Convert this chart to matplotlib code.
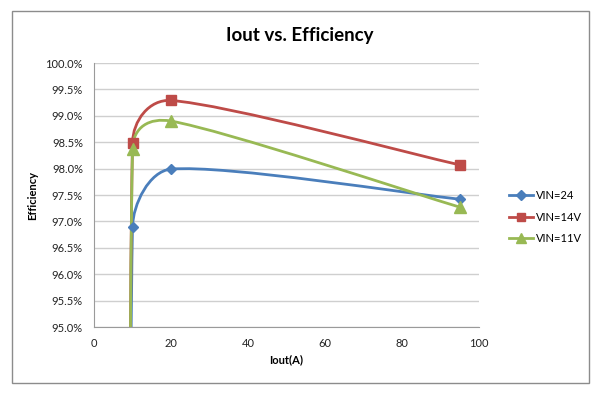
import numpy as np
import matplotlib
matplotlib.use("Agg")
import matplotlib.pyplot as plt
import matplotlib.ticker as mtick
from matplotlib.path import Path
from matplotlib.patches import PathPatch, Rectangle
from matplotlib.lines import Line2D

plt.rcParams["font.family"] = ["Lato", "DejaVu Sans"]

# first point of each series sits below the visible range (95%)
iout_24 = [9.95, 10, 20, 95]
eff_24 = [60.0, 96.90, 97.99, 97.42]
iout_14 = [9.5, 10, 20, 95]
eff_14 = [60.0, 98.49, 99.29, 98.07]
iout_11 = [9.5, 10, 20, 95]
eff_11 = [60.0, 98.37, 98.90, 97.27]

series = [
    ("VIN=24", iout_24, eff_24, "#4a7ebb", "D", 5.5),
    ("VIN=14V", iout_14, eff_14, "#be4b48", "s", 7),
    ("VIN=11V", iout_11, eff_11, "#98b954", "^", 8),
]

y_ticks = np.arange(95.0, 100.01, 0.5)
x_ticks = [0, 20, 40, 60, 80, 100]

# pixel size of one data unit, so the smoothing is done in screen space
SX = 385 / 100
SY = 264 / 5
ARM_MAX = 22  # px, longest bezier arm when the arm has to be capped


def smooth_path(xs, ys, f=1 / 6):
    # Excel like smoothed line: bezier, control arm capped on short segments
    pts = np.column_stack([np.array(xs) * SX, np.array(ys) * SY]).astype(float)
    n = len(pts)
    verts = [pts[0]]
    codes = [Path.MOVETO]
    for i in range(n - 1):
        p0 = pts[i - 1] if i > 0 else pts[i]
        p1, p2 = pts[i], pts[i + 1]
        p3 = pts[i + 2] if i + 2 < n else pts[i + 1]
        d12 = np.linalg.norm(p2 - p1)
        d02 = np.linalg.norm(p2 - p0)
        d13 = np.linalg.norm(p3 - p1)
        cap = min(d12 / 2, ARM_MAX)
        f1 = f if d02 * f < d12 / 2 else cap / d02
        f2 = f if d13 * f < d12 / 2 else cap / d13
        verts += [p1 + (p2 - p0) * f1, p2 - (p3 - p1) * f2, p2]
        codes += [Path.CURVE4] * 3
    verts = np.array(verts) / [SX, SY]
    return Path(verts, codes)


fig = plt.figure(figsize=(6.0, 3.94), dpi=100)
fig.patches.append(Rectangle((12 / 600, 1 - 383 / 394), 577 / 600, 372 / 394,
                             transform=fig.transFigure, fill=False,
                             edgecolor="#8c8c8c", linewidth=1.0))

ax = fig.add_axes([94 / 600, 1 - 327 / 394, 385 / 600, 264 / 394])

handles = []
for label, xs, ys, color, marker, ms in series:
    patch = PathPatch(smooth_path(xs, ys), fill=False, edgecolor=color,
                      linewidth=2.0, zorder=3)
    ax.add_patch(patch)
    ax.plot(xs, ys, linestyle="none", marker=marker, markersize=ms,
            color=color, zorder=4)
    handles.append(Line2D([], [], color=color, linewidth=2.0, marker=marker,
                          markersize=ms * 0.85, label=label))

ax.set_xlim(0, 100)
ax.set_ylim(95, 100)
ax.set_xticks(x_ticks)
ax.set_yticks(y_ticks)
ax.yaxis.set_major_formatter(mtick.FuncFormatter(lambda v, p: f"{v:.1f}%"))
ax.tick_params(length=0, labelsize=8, colors="#222222", pad=8)
ax.grid(True, axis="y", color="#cfcfcf", linewidth=1.0)
ax.set_axisbelow(True)
for side in ["top", "right"]:
    ax.spines[side].set_visible(False)
for side in ["left", "bottom"]:
    ax.spines[side].set_color("#9a9a9a")

ax.set_xlabel("Iout(A)", fontsize=8, fontweight="bold", labelpad=4)
ax.set_ylabel("Efficiency", fontsize=8, fontweight="bold", labelpad=5)
fig.text(0.5, 1 - 36 / 394, "Iout vs. Efficiency", ha="center", va="center",
         fontsize=13.5, fontweight="bold")

fig.legend(handles=handles, loc="upper left", bbox_to_anchor=(499 / 600, 1 - 180 / 394),
           frameon=False, fontsize=8, handlelength=2.2, handletextpad=0.2,
           labelspacing=0.95)

fig.savefig("out.png", dpi=100)
